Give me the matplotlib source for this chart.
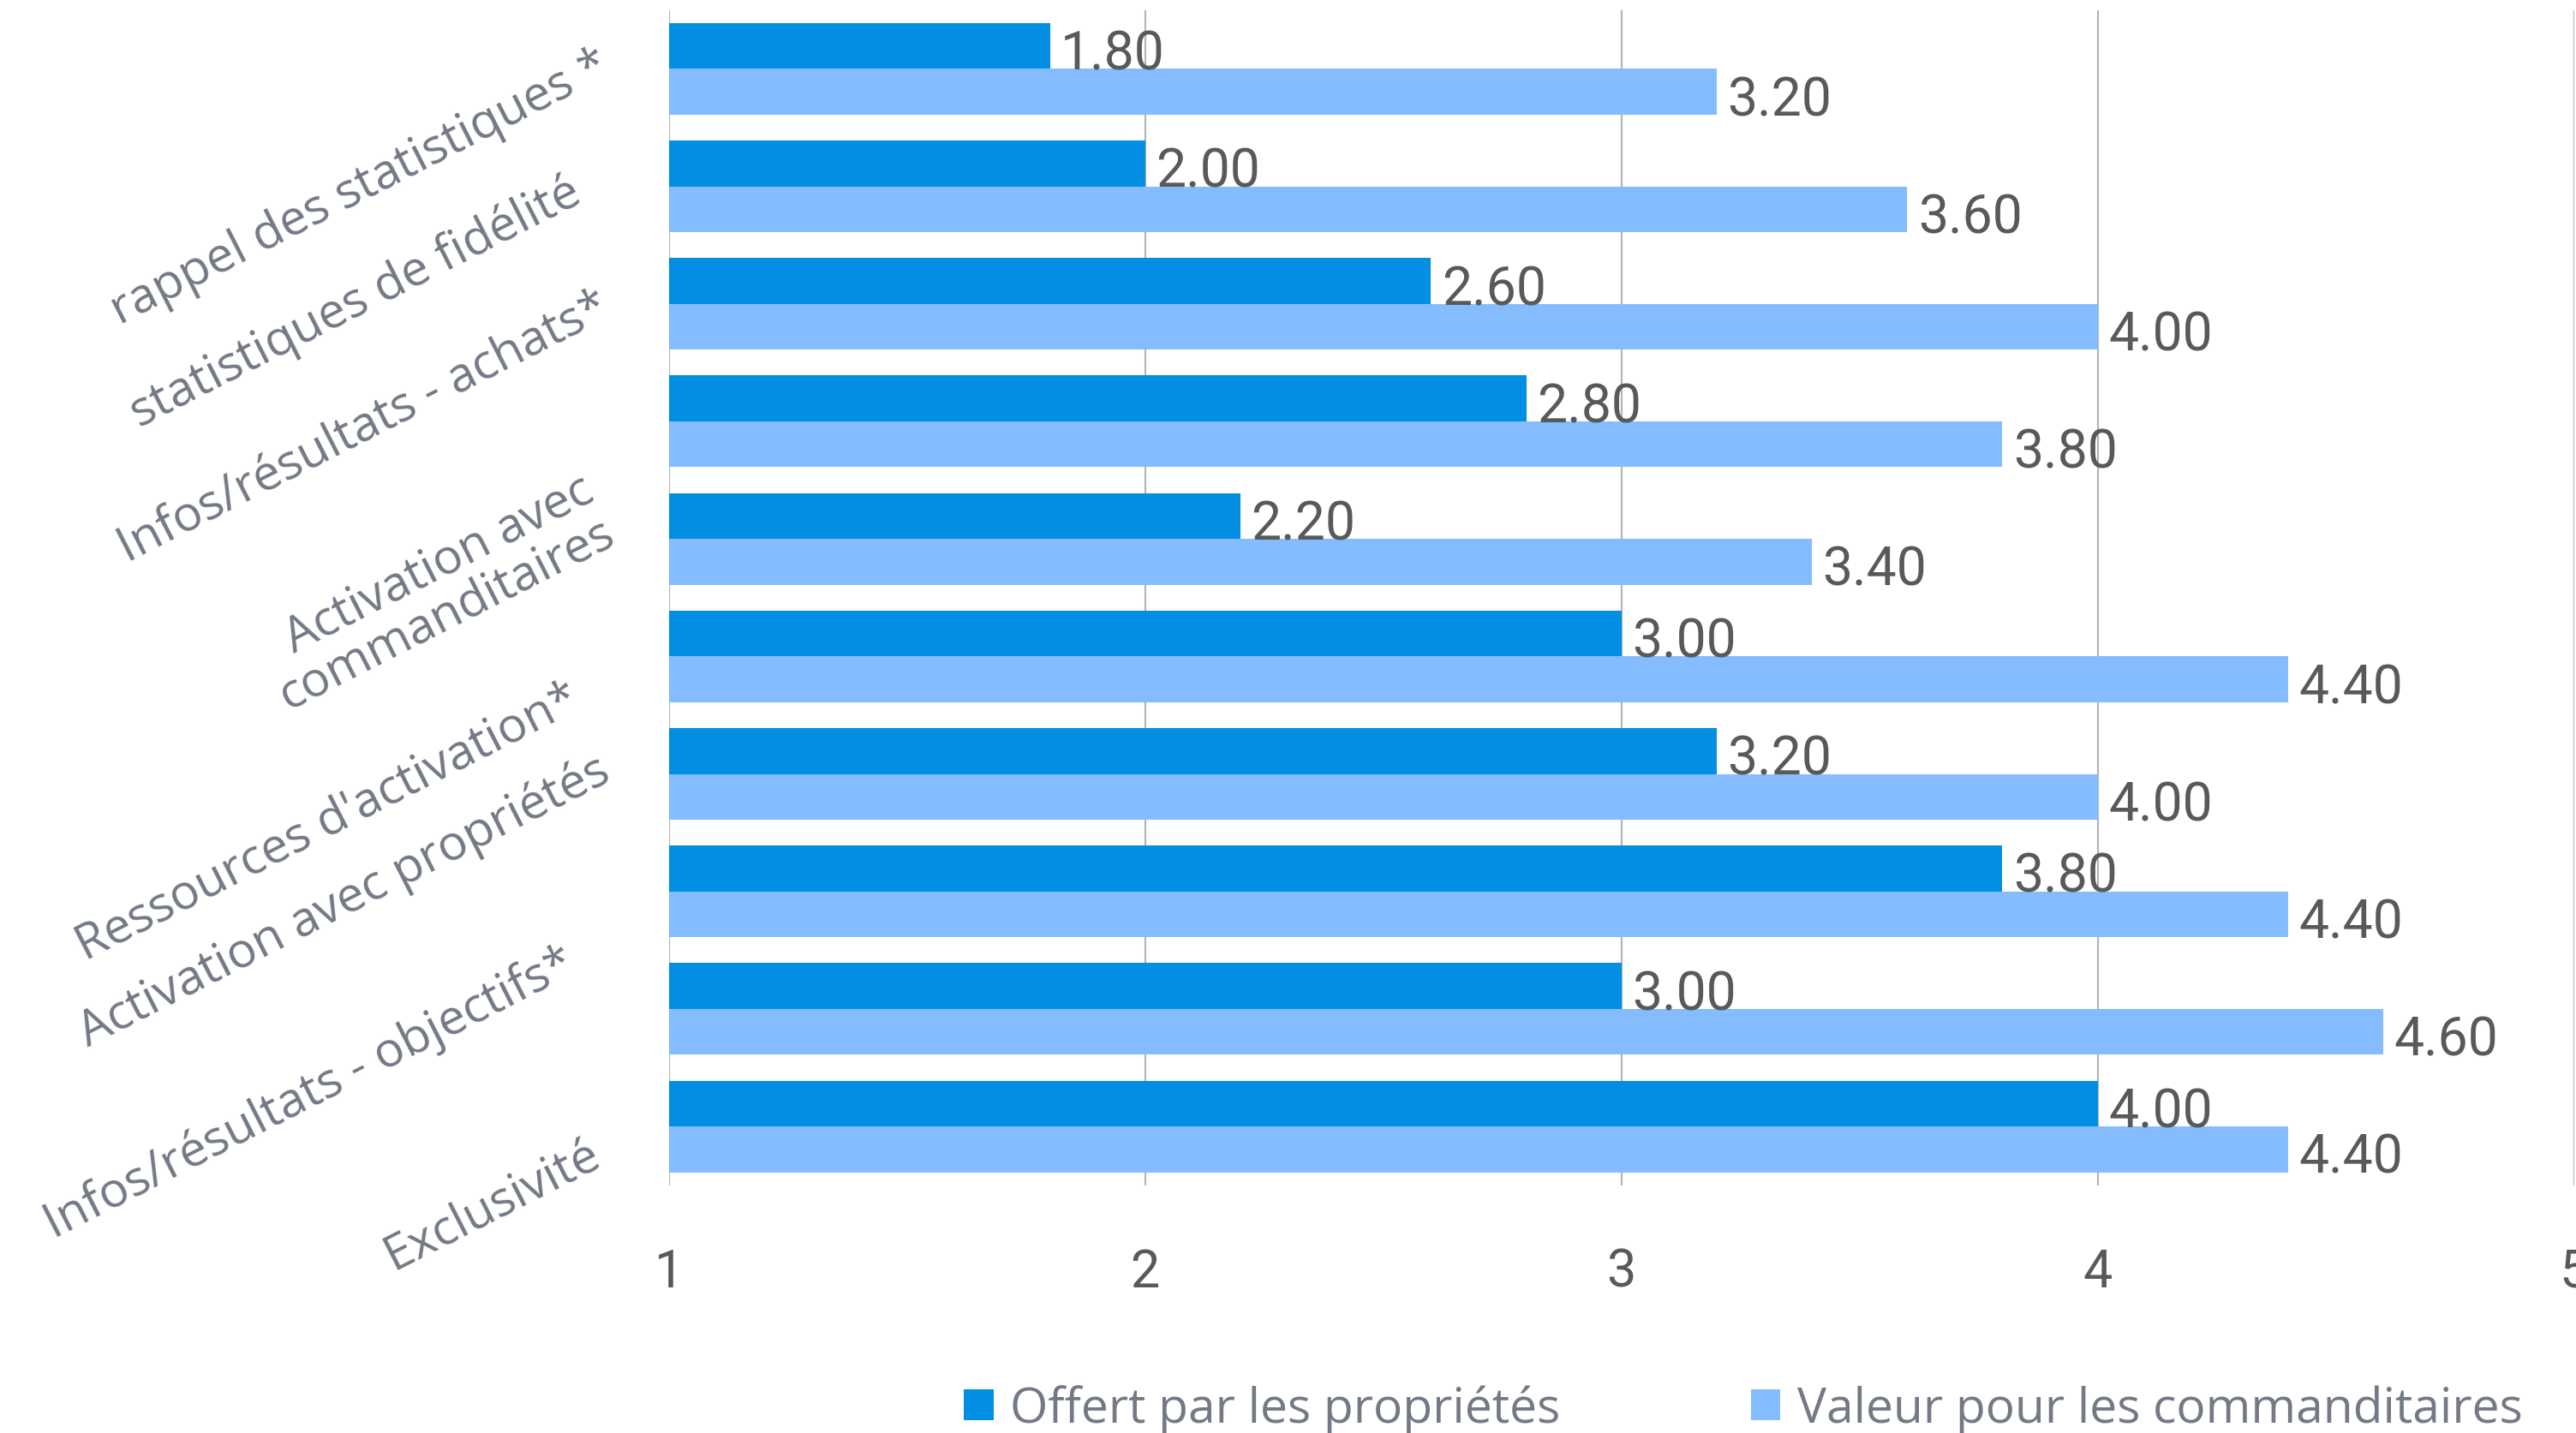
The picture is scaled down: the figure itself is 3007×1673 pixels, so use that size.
import matplotlib
matplotlib.use("Agg")
import matplotlib.pyplot as plt
from matplotlib.patches import Patch
import numpy as np

# ---------------- data ----------------
offert = [1.80, 2.00, 2.60, 2.80, 2.20, 3.00, 3.20, 3.80, 3.00, 4.00]
valeur = [3.20, 3.60, 4.00, 3.80, 3.40, 4.40, 4.00, 4.40, 4.60, 4.40]
category_labels = [
    "rappel des statistiques *",
    "statistiques de fidélité",
    "Infos/résultats - achats*",
    "Activation avec\ncommanditaires",
    "Ressources d'activation*",
    "Activation avec propriétés",
    "Infos/résultats - objectifs*",
    "Exclusivité",
]
series_names = ["Offert par les propriétés", "Valeur pour les commanditaires"]
x_ticks = [1, 2, 3, 4, 5]

# ---------------- layout / style ----------------
W, H = 3007, 1674
DPI = 100
C_DARK = "#028ee2"
C_LIGHT = "#84bcfd"
C_VAL = "#595959"
C_CAT = "#737985"
CAT_FONT = ["Open Sans", "DejaVu Sans"]
NUM_FONT = ["Roboto", "DejaVu Sans"]

# label anchor positions (pixels in reference: x, y of right-end centre)
label_anchor_px = [(708, 74), (675, 222), (708, 356), (702, 595),
                   (674, 814), (708, 898), (668, 1122), (698, 1346)]

fig = plt.figure(figsize=(W / DPI, H / DPI), dpi=DPI)
ax_left, ax_right = 781 / W, 3004.5 / W
ax_top, ax_bot = 1 - 12.9 / H, 1 - 1384.6 / H
ax = fig.add_axes([ax_left, ax_bot, ax_right - ax_left, ax_top - ax_bot])

n = len(offert)
y = np.arange(n)
bh = 0.39
b1 = ax.barh(y - bh / 2, [v - 1 for v in offert], left=1, height=bh, color=C_DARK, zorder=2)
b2 = ax.barh(y + bh / 2, [v - 1 for v in valeur], left=1, height=bh, color=C_LIGHT, zorder=2)

for bars, vals in ((b1, offert), (b2, valeur)):
    for rect, v in zip(bars, vals):
        ax.annotate(f"{v:.2f}", xy=(v, rect.get_y() + rect.get_height() / 2),
                    xytext=(9, -2.5), textcoords="offset points",
                    ha="left", va="center_baseline", fontsize=45,
                    family=NUM_FONT, color=C_VAL, zorder=3)

ax.set_xlim(1, 5)
ax.set_ylim(n - 0.5, -0.5)
ax.set_xticks(x_ticks)
ax.set_xticklabels([str(t) for t in x_ticks], family=NUM_FONT, fontsize=44, color=C_VAL)
ax.tick_params(axis="x", length=0, pad=52)
ax.set_yticks([])
ax.grid(axis="x", color="#b3b3b3", linewidth=1.5)
ax.set_axisbelow(True)
for s in ax.spines.values():
    s.set_visible(False)

# rotated category labels
ax_w_px = (ax_right - ax_left) * W
for lab, (px, py) in zip(category_labels, label_anchor_px):
    xa = (px - 781) / ax_w_px
    yd = (py - 81.5) / 137.2
    ax.text(xa, yd, lab, transform=ax.get_yaxis_transform(), rotation=27,
            rotation_mode="anchor", ha="right", va="center", multialignment="right",
            fontsize=41, family=CAT_FONT, color=C_CAT, linespacing=1.0, clip_on=False)

handles = [Patch(facecolor=C_DARK, edgecolor="none"), Patch(facecolor=C_LIGHT, edgecolor="none")]
leg = fig.legend(handles, series_names, loc="center", bbox_to_anchor=(2035 / W, 1 - 1646 / H),
                 ncol=2, frameon=False, handlelength=0.6, handleheight=0.6,
                 handletextpad=0.35, columnspacing=3.9,
                 prop={"family": CAT_FONT, "size": 41})
for t in leg.get_texts():
    t.set_color(C_CAT)

fig.savefig("out.png", dpi=DPI, facecolor="white")
